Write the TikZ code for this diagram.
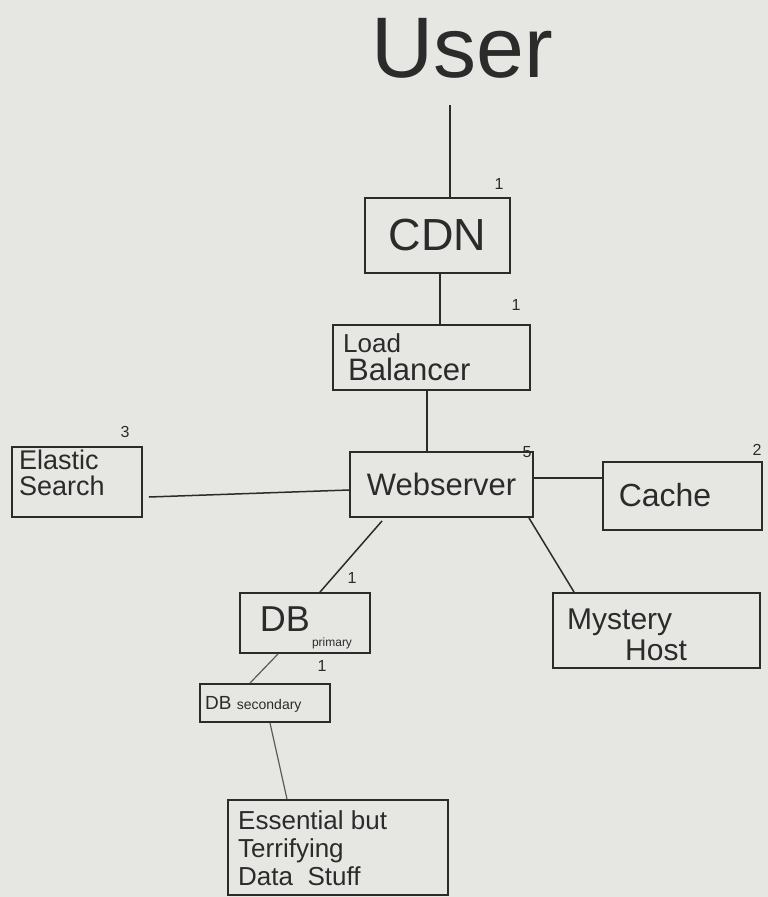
\documentclass[tikz,border=0pt]{standalone}
\usepackage{fontspec}
\setmainfont{Liberation Sans}
\usetikzlibrary{calc}
\definecolor{ink}{HTML}{2B2B2B}
\definecolor{paper}{HTML}{E6E6E3}
\definecolor{thinink}{HTML}{5A5A5A}
\tikzset{
  box/.style={draw=ink, line width=1.9pt, inner sep=0pt},
  conn/.style={draw=ink, line width=1.5pt},
  lightconn/.style={draw=thinink, line width=1.2pt},
  cnt/.style={text=ink, font=\fontsize{16}{16}\selectfont, inner sep=0pt},
  txt/.style={text=ink, inner sep=0pt}
}
\begin{document}
\begin{tikzpicture}[x=1pt,y=-1pt]
\fill[paper] (0,0) rectangle (768,897);
\useasboundingbox (0,0) rectangle (768,897);

% title
\node[txt, font=\fontsize{86}{86}\selectfont] (user) at (462,48) {User};
\coordinate (ub) at ([yshift=-27]user.south);

% boxes
\node[box, minimum width=145, minimum height=75] (cdn) at (437.5,235.5) {};
\node[txt, font=\fontsize{45}{45}\selectfont] (cdnt) at (cdn) {CDN};

\node[box, minimum width=197, minimum height=65] (lb) at (431.5,357.5) {};
\node[txt, anchor=west, font=\fontsize{26}{26}\selectfont] (lbt1) at (343,343) {Load};
\node[txt, anchor=west, font=\fontsize{31}{31}\selectfont] (lbt2) at (348,369) {Balancer};

\node[box, minimum width=183, minimum height=65] (web) at (441.5,484.5) {};
\node[txt, font=\fontsize{31}{31}\selectfont] (webt) at (web) {Webserver};

\node[box, minimum width=130, minimum height=70] (es) at (77,482) {};
\node[txt, anchor=west, align=left, font=\fontsize{27}{26}\selectfont] (est) at (19,473) {Elastic\\ Search};

\node[box, minimum width=159, minimum height=68] (cache) at (682.5,496) {};
\node[txt, font=\fontsize{32}{32}\selectfont] (cachet) at (665,495) {Cache};

\node[box, minimum width=207, minimum height=75] (myst) at (656.5,630.5) {};
\node[txt, anchor=west, font=\fontsize{30}{30}\selectfont] (mystt1) at (567,622) {Mystery};
\node[txt, anchor=west, font=\fontsize{30}{30}\selectfont] (mystt2) at (625,650) {Host};

\node[box, minimum width=130, minimum height=60] (db) at (305,623) {};
\node[txt, font=\fontsize{36}{36}\selectfont] (dbt) at (285,619) {DB};
\node[txt, font=\fontsize{12}{12}\selectfont] (dbp) at (332,643) {primary};

\node[box, minimum width=130, minimum height=38] (dbs) at (265,703) {};
\node[txt, anchor=west, font=\fontsize{19}{19}\selectfont] (dbst) at (205,704) {DB \fontsize{14}{14}\selectfont secondary};

\node[box, minimum width=220, minimum height=95] (ess) at (338,847.5) {};
\node[txt, anchor=west, align=left, font=\fontsize{26}{28}\selectfont] (esst) at (238,848) {Essential but\\ Terrifying\\ Data\ \ Stuff};

% counts
\node[cnt] (n1) at (499,184) {1};
\node[cnt] (n2) at (516,305) {1};
\node[cnt] (n3) at (527,452) {5};
\node[cnt] (n4) at (125,432) {3};
\node[cnt] (n5) at (757,450) {2};
\node[cnt] (n6) at (352,578) {1};
\node[cnt] (n7) at (322,666) {1};

% connectors
\draw[conn] ([xshift=12.5]cdn.north |- ub) -- ([xshift=12.5]cdn.north);
\draw[conn] ([xshift=2.5]cdn.south) -- ([xshift=8.5]lb.north);
\draw[conn] ([xshift=-4.5]lb.south) -- ([xshift=-14.5]web.north);
\draw[conn] ([xshift=6,yshift=-15]es.east) -- ([yshift=-5.5]web.west);
\draw[conn] ([yshift=6.5]web.east) -- ([yshift=18]cache.west);
\draw[conn] ([xshift=-5]web.south east) -- ([xshift=22]myst.north west);
\draw[conn] ([xshift=-59.5,yshift=-3]web.south) -- ([xshift=15]db.north);
\draw[lightconn] ([xshift=-27]db.south) -- ([xshift=-15]dbs.north);
\draw[lightconn] ([xshift=5]dbs.south) -- ([xshift=-51]ess.north);
\end{tikzpicture}
\end{document}
